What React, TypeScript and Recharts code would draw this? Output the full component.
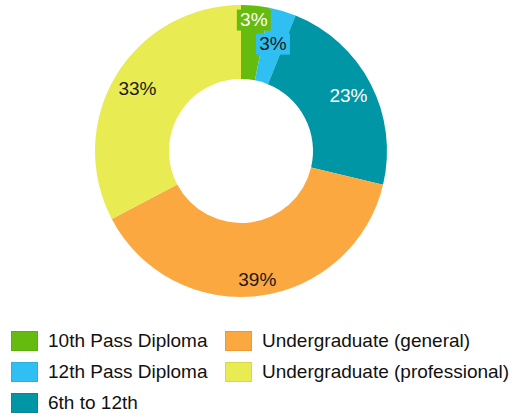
import { PieChart, Pie, Cell, Legend } from 'recharts';

const categories = ['10th Pass Diploma', '12th Pass Diploma', '6th to 12th', 'Undergraduate (general)', 'Undergraduate (professional)'];
const shares = [3.1, 3.0, 22.6, 38.6, 32.7];
const COLORS = ['#66bb0f', '#2fbff2', '#0096a6', '#fba841', '#e8ec52'];
const LABEL_COLORS = ['#ffffff', '#1a1a1a', '#ffffff', '#1a1a1a', '#1a1a1a'];
// legend is laid out column by column, three rows
const legendColumns = [[0, 1, 2], [3, 4]];

const data = categories.map((name, i) => ({ name, value: shares[i] }));

// label distance from centre, tuned per slice
const LABEL_R = [132, 112, 121, 130, 121];
const RAD = Math.PI / 180;

const renderLabel = (props: any) => {
    const { cx, cy, midAngle, percent, index } = props;
    const r = LABEL_R[index];
    const x = cx + r * Math.cos(-midAngle * RAD);
    const y = cy + r * Math.sin(-midAngle * RAD);
    const text = `${Math.round(percent * 100)}%`;
    const small = percent < 0.05;
    return (
        <g>
            {small && <rect x={x - 17} y={y - 10} width={34} height={21} fill={COLORS[index]} />}
            <text
                x={x}
                y={y}
                textAnchor="middle"
                dominantBaseline="central"
                fill={LABEL_COLORS[index]}
                fontSize={19}
                fontFamily="'Liberation Sans', Arial, sans-serif"
            >
                {text}
            </text>
        </g>
    );
};

const renderLegend = () => (
    <div style={{ display: 'flex', fontFamily: "'Liberation Sans', Arial, sans-serif", fontSize: 19, color: '#111' }}>
        {legendColumns.map((col, ci) => (
            <div key={ci} style={{ marginLeft: 11, width: ci === 0 ? 203 : 290 }}>
                {col.map((i) => (
                    <div key={i} style={{ display: 'flex', alignItems: 'center', height: 31 }}>
                        <span
                            style={{
                                display: 'inline-block',
                                width: 27,
                                height: 20,
                                background: COLORS[i],
                                boxShadow: 'inset 0 0 0 1px rgba(0,0,0,0.08)',
                                marginRight: 10,
                                flexShrink: 0,
                            }}
                        />
                        <span style={{ whiteSpace: 'nowrap' }}>{categories[i]}</span>
                    </div>
                ))}
            </div>
        ))}
    </div>
);

export default function App() {
    return (
        <div style={{ position: 'absolute', left: 0, top: 0, width: 517, height: 413, background: '#fff' }}>
            <PieChart width={517} height={413} margin={{ top: 0, right: 0, bottom: 0, left: 0 }}>
                <Pie
                    data={data}
                    dataKey="value"
                    nameKey="name"
                    cx={241}
                    cy={151}
                    innerRadius={72}
                    outerRadius={146}
                    startAngle={90}
                    endAngle={-270}
                    stroke="none"
                    label={renderLabel}
                    labelLine={false}
                    isAnimationActive={false}
                >
                    {data.map((_entry, index) => (
                        <Cell key={`cell-${index}`} fill={COLORS[index]} />
                    ))}
                </Pie>
                <Legend
                    content={renderLegend}
                    wrapperStyle={{ position: 'absolute', left: 0, top: 325, width: 517 }}
                />
            </PieChart>
        </div>
    );
}
